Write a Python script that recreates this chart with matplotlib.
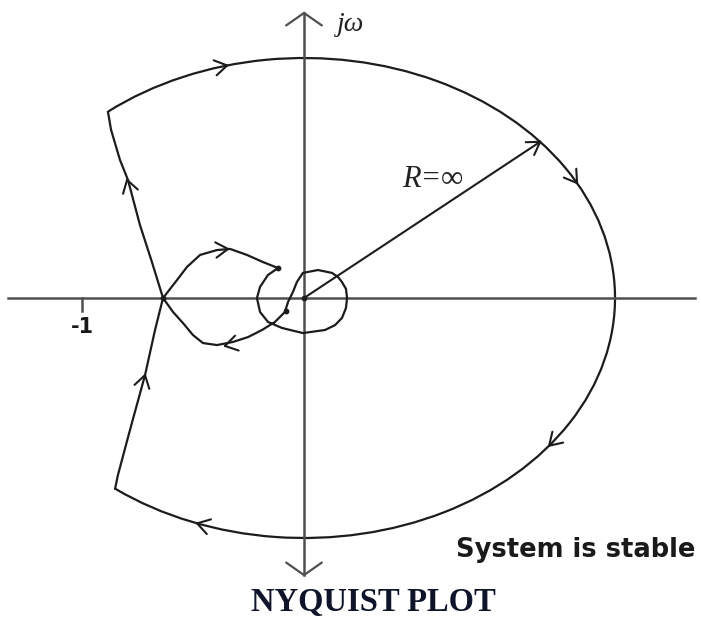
import numpy as np
import matplotlib
matplotlib.use("Agg")
import matplotlib.pyplot as plt
from matplotlib.patches import Arc

# ---- Nyquist contour geometry (units: real/imag axis, -1 is the critical point) ----
# contour at infinity (R = inf) drawn as an ellipse arc
big_rx, big_ry = 1.401, 1.081
big_theta_start, big_theta_end = -134.7, 136.4   # polar angles of the two ends

# straight segments joining the big arc to the real-axis crossing
upper_seg_x = [-0.883, -0.869, -0.829, -0.793, -0.739, -0.685, -0.635]
upper_seg_y = [0.838, 0.757, 0.622, 0.532, 0.329, 0.162, 0.0]
lower_seg_x = [-0.635, -0.671, -0.716, -0.784, -0.838, -0.851]
lower_seg_y = [0.0, -0.144, -0.347, -0.595, -0.797, -0.859]

# inner loop: crossing -> upper lobe -> small circle round the origin -> lower lobe -> crossing
inner_x = [-0.635, -0.600, -0.572, -0.527, -0.468, -0.392, -0.333, -0.257, -0.185, -0.117,
           -0.162, -0.198, -0.212, -0.198, -0.162, -0.099, -0.005, 0.095, 0.140, 0.171,
           0.189, 0.194, 0.189, 0.171, 0.153, 0.126, 0.063, -0.005, -0.032, -0.050,
           -0.072, -0.086, -0.131, -0.189, -0.252, -0.320, -0.392, -0.455, -0.500,
           -0.545, -0.590, -0.635]
inner_y = [0.0, 0.045, 0.081, 0.140, 0.194, 0.216, 0.221, 0.194, 0.162, 0.135,
           0.104, 0.050, 0.0, -0.063, -0.108, -0.135, -0.158, -0.144, -0.122, -0.090,
           -0.045, 0.0, 0.041, 0.072, 0.095, 0.113, 0.126, 0.113, 0.072, 0.027,
           -0.018, -0.063, -0.108, -0.144, -0.176, -0.198, -0.212, -0.203, -0.167,
           -0.113, -0.063, 0.0]

# direction arrows: (tip, point behind the tip)
arc_arrow_t = [104.3, 28.6, -38.0, -110.1]        # parametric angles on the big arc
line_arrows = [((-0.797, 0.532), (-0.739, 0.329)),
               ((-0.716, -0.347), (-0.770, -0.550)),
               ((-0.342, 0.221), (-0.400, 0.216)),
               ((-0.356, -0.216), (-0.302, -0.203))]
radius_t = 40.6                                   # where the R = inf radius meets the arc

dots_x = [-0.635, 0.0, -0.117, -0.082]
dots_y = [0.0, 0.0, 0.135, -0.059]

ink = "#1c1c1c"
axis_col = "#505050"

fig = plt.figure(figsize=(7.01, 6.22), dpi=100)
ax = fig.add_axes([0, 0, 1, 1])
ax.set_xlim(-304 / 222, 397 / 222)
ax.set_ylim(-324 / 222, 298 / 222)
ax.set_aspect("equal")
ax.axis("off")


def vhead(tip, back, length=0.065, half_angle=32, color=ink, lw=1.5):
    tip = np.asarray(tip, float)
    d = tip - np.asarray(back, float)
    d /= np.hypot(*d)
    for s in (1, -1):
        a = np.radians(s * half_angle)
        r = np.array([d[0] * np.cos(a) - d[1] * np.sin(a),
                      d[0] * np.sin(a) + d[1] * np.cos(a)])
        p = tip - length * r
        ax.plot([tip[0], p[0]], [tip[1], p[1]], color=color, lw=lw,
                solid_capstyle="round")


# axes of the s-plane
ax.plot([-1.333, 1.761], [0, 0], color=axis_col, lw=1.8)
ax.plot([0, 0], [-1.248, 1.284], color=axis_col, lw=1.8)
vhead((0, 1.284), (0, 1.0), length=0.098, half_angle=55, color=axis_col, lw=1.6)
vhead((0, -1.248), (0, -1.0), length=0.098, half_angle=55, color=axis_col, lw=1.6)
ax.plot([-1, -1], [0, -0.059], color=axis_col, lw=1.8)

# big arc at infinity
ax.add_patch(Arc((0, 0), 2 * big_rx, 2 * big_ry, theta1=big_theta_start,
                 theta2=big_theta_end, color=ink, lw=1.6))
ax.plot(upper_seg_x, upper_seg_y, color=ink, lw=1.6)
ax.plot(lower_seg_x, lower_seg_y, color=ink, lw=1.6)
ax.plot(inner_x, inner_y, color=ink, lw=1.6, solid_joinstyle="round")
ax.scatter(dots_x, dots_y, s=10, color=ink, zorder=5)

# arrows along the big arc (clockwise)
for t in arc_arrow_t:
    tr = np.radians(t)
    tip = (big_rx * np.cos(tr), big_ry * np.sin(tr))
    back = (tip[0] - big_rx * np.sin(tr) * 0.05, tip[1] + big_ry * np.cos(tr) * 0.05)
    vhead(tip, back)
for tip, back in line_arrows:
    vhead(tip, back)

# radius R = inf
tr = np.radians(radius_t)
rt = (big_rx * np.cos(tr), big_ry * np.sin(tr))
ax.plot([0, rt[0]], [0, rt[1]], color=ink, lw=1.5)
vhead(rt, (0, 0))

# labels
ax.text(0.148, 1.230, "jω", fontsize=20, fontstyle="italic",
        family=["Liberation Serif", "DejaVu Serif"], color="#222222",
        ha="left", va="center")
ax.text(0.441, 0.532, "R=∞", fontsize=22, fontstyle="italic",
        family=["Liberation Serif", "DejaVu Serif"],
        color="#222222", ha="left", va="center")
ax.text(-1.0, -0.13, "-1", fontsize=15, fontweight="bold", family="DejaVu Sans",
        color="#1a1a1a", ha="center", va="center")
ax.text(1.761, -1.137, "System is stable", fontsize=18.5, fontweight="bold",
        family="DejaVu Sans", color="#1a1a1a", ha="right", va="center")
ax.text(0.313, -1.37, "NYQUIST PLOT", fontsize=23.5, fontweight="bold",
        family="Liberation Serif", color="#10142a", ha="center", va="center")

fig.savefig("out.png", dpi=100, facecolor="white")
